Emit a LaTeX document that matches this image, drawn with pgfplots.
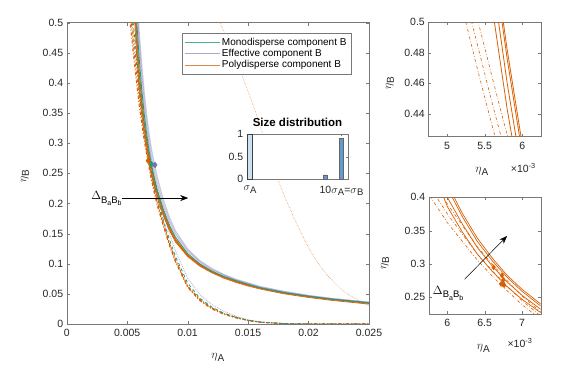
\documentclass[border=0pt]{standalone}
\usepackage{fontspec}
\setmainfont{Liberation Sans}
\usepackage{pgfplots}
\pgfplotsset{compat=1.18}
\usepackage{pgfplotstable}
\usetikzlibrary{arrows.meta}

\definecolor{mono}{RGB}{27,158,119}
\definecolor{poly}{RGB}{217,95,2}
\definecolor{eff}{RGB}{117,112,179}
\definecolor{axgray}{RGB}{120,120,120}
\definecolor{txtgray}{RGB}{38,38,38}
\definecolor{barlight}{RGB}{204,226,242}
\definecolor{barmid}{RGB}{100,155,205}

% label helpers: eta with a large upright subscript, as MATLAB sets it
\newcommand{\etaA}{$\eta$\raisebox{-0.45ex}{\fontsize{10}{11}\selectfont A}}
\newcommand{\etaB}{$\eta$\raisebox{-0.45ex}{\fontsize{10}{11}\selectfont B}}
\newcommand{\sub}[1]{\raisebox{-0.45ex}{\fontsize{9.5}{10}\selectfont #1}}
\newcommand{\dBB}{$\Delta$\raisebox{-0.5ex}{\fontsize{9.5}{10}\selectfont B\raisebox{-0.5ex}{\fontsize{7}{8}\selectfont a}B\raisebox{-0.5ex}{\fontsize{7}{8}\selectfont b}}}

% eta_A in units of 1e-3
\pgfplotstableread{
x    Oa    O     Ob    Oc    La     Lb     Lc     T     TL     P1    P2    PL
5.2  0.655 0.68  0.70  0.705 0.51   0.525  0.54   0.75  0.56   0.78  0.82  0.60
5.4  0.578 0.60  0.62  0.625 0.47   0.486  0.503  0.66  0.52   0.69  0.72  0.555
5.6  0.51  0.53  0.546 0.552 0.432  0.447  0.464  0.575 0.48   0.60  0.63  0.51
5.8  0.443 0.46  0.476 0.482 0.396  0.41   0.426  0.50  0.44   0.525 0.55  0.47
6.0  0.386 0.40  0.414 0.42  0.362  0.375  0.39   0.44  0.40   0.46  0.48  0.43
6.2  0.348 0.36  0.371 0.376 0.334  0.345  0.358  0.39  0.365  0.41  0.43  0.39
6.4  0.315 0.325 0.334 0.339 0.306  0.315  0.326  0.35  0.333  0.367 0.385 0.355
6.6  0.289 0.297 0.305 0.309 0.282  0.29   0.30   0.317 0.305  0.332 0.348 0.323
6.8  0.266 0.273 0.28  0.283 0.26   0.267  0.275  0.289 0.28   0.302 0.316 0.295
7.0  0.247 0.253 0.259 0.262 0.239  0.245  0.252  0.265 0.256  0.277 0.29  0.27
7.25 0.227 0.232 0.237 0.240 0.217  0.222  0.228  0.242 0.232  0.252 0.264 0.245
7.5  0.209 0.213 0.217 0.219 0.196  0.200  0.205  0.222 0.21   0.231 0.242 0.222
8    0.179 0.182 0.185 0.187 0.162  0.165  0.168  0.19  0.172  0.197 0.205 0.183
8.5  0.155 0.157 0.159 0.161 0.130  0.132  0.134  0.164 0.14   0.17  0.176 0.15
9    0.136 0.138 0.139 0.141 0.103  0.105  0.107  0.144 0.112  0.149 0.154 0.121
10   0.112 0.113 0.114 0.115 0.061  0.062  0.063  0.117 0.068  0.121 0.124 0.076
11   0.096 0.097 0.098 0.099 0.039  0.040  0.041  0.10  0.043  0.103 0.105 0.049
12   0.085 0.086 0.087 0.087 0.025  0.026  0.027  0.088 0.028  0.090 0.092 0.032
13   0.076 0.077 0.078 0.078 0.016  0.017  0.017  0.079 0.018  0.081 0.082 0.021
14   0.069 0.070 0.071 0.071 0.010  0.011  0.011  0.072 0.011  0.073 0.074 0.013
15   0.063 0.064 0.065 0.065 0.006  0.006  0.006  0.066 0.006  0.067 0.068 0.007
16   0.058 0.059 0.060 0.060 0.003  0.003  0.003  0.060 0.003  0.061 0.062 0.0035
18   0.050 0.051 0.052 0.052 0.0006 0.0006 0.0006 0.052 0.0007 0.053 0.054 0.0008
20   0.044 0.045 0.046 0.046 0.0001 0.0001 0.0001 0.046 0.0001 0.047 0.047 0.0001
22   0.039 0.040 0.041 0.041 0      0      0      0.041 0      0.042 0.042 0
25   0.033 0.034 0.035 0.035 0      0      0      0.035 0      0.036 0.036 0
}\curves

\pgfplotstableread{
x     y
12.67 0.501
14.32 0.4215
15.56 0.355
16.64 0.289
17.63 0.231
18.87 0.173
20.11 0.123
21.35 0.086
23.0  0.053
24.98 0.030
}\farcurve

\pgfplotsset{
  matstyle/.style={
    scale only axis, anchor=south west, clip mode=individual,
    axis line style={axgray}, tick style={axgray},
    major tick length=3pt, tick align=inside,
    ticklabel style={text=txtgray, font=\fontsize{10.5}{12}\selectfont},
    xticklabel style={yshift=-2pt},
    label style={text=txtgray, font=\fontsize{12}{13}\selectfont},
    /pgf/number format/assume math mode=true,
  },
}

\begin{document}
\begin{tikzpicture}
\path[use as bounding box] (0pt,0pt) rectangle (586pt,366pt);

% ---------------- main axis ----------------
\begin{axis}[matstyle,
  at={(66.7pt,42pt)}, width=302.3pt, height=301.3pt,
  xmin=0, xmax=25, ymin=0, ymax=0.5,
  xtick={0,5,10,15,20,25},
  xticklabels={0,0.005,0.01,0.015,0.02,0.025},
  ytick={0,0.05,0.1,0.15,0.2,0.25,0.3,0.35,0.4,0.45,0.5},
  yticklabels={0,0.05,0.1,0.15,0.2,0.25,0.3,0.35,0.4,0.45,0.5},
  xlabel={\etaA}, ylabel={\etaB},
  xlabel style={at={(axis description cs:0.5,-0.11)}, anchor=center},
  ylabel style={at={(axis description cs:-0.138,0.49)}, anchor=center},
  legend style={at={(axis description cs:0.3804,0.9648)}, anchor=north west,
    draw=axgray, fill=white, text=black, font=\fontsize{10}{11}\selectfont,
    row sep=-1.5pt, inner sep=2.5pt},
  legend cell align=left,
  legend image code/.code={\draw[#1] (0pt,0pt) -- (35pt,0pt);},
]
\addlegendimage{mono!80, line width=0.6pt}
\addlegendimage{eff!60, line width=0.6pt}
\addlegendimage{poly!75, line width=0.6pt}
\legend{Monodisperse component B, Effective component B, Polydisperse component B}

\addplot[poly, line width=0.7pt] table[x=x,y=Oa]{\curves};
\addplot[poly, line width=0.7pt] table[x=x,y=O]{\curves};
\addplot[poly, line width=0.7pt] table[x=x,y=Ob]{\curves};
\addplot[poly, line width=0.7pt] table[x=x,y=Oc]{\curves};
\addplot[poly, line width=1pt, dash dot] table[x=x,y=La]{\curves};
\addplot[poly, line width=1pt, dash dot] table[x=x,y=Lb]{\curves};
\addplot[poly, line width=1pt, dash dot] table[x=x,y=Lc]{\curves};
\addplot[poly!80, line width=0.5pt, densely dotted, smooth] table[x=x,y=y]{\farcurve};
\addplot[eff, opacity=0.4, line width=1.3pt] table[x=x,y=P1]{\curves};
\addplot[eff, opacity=0.4, line width=1.3pt] table[x=x,y=P2]{\curves};
\addplot[eff, opacity=0.5, line width=0.9pt, densely dotted] table[x=x,y=PL]{\curves};
\addplot[mono, line width=0.8pt] table[x=x,y=T]{\curves};
\addplot[mono, line width=0.8pt, dashed] table[x=x,y=TL]{\curves};
\addplot[only marks, mark=diamond*, mark size=3pt, poly] coordinates {(6.74,0.271)};
\addplot[only marks, mark=diamond*, mark size=3pt, mono] coordinates {(7.02,0.265)};
\addplot[only marks, mark=diamond*, mark size=3pt, eff] coordinates {(7.30,0.264)};

\draw[-{Stealth[length=8pt,width=6pt]}, line width=0.6pt] (axis cs:4.55,0.209) -- (axis cs:10.05,0.209);
\node[anchor=base east, inner sep=0pt, font=\fontsize{12}{13}\selectfont]
  at (axis cs:4.55,0.206) {\dBB};
\end{axis}

% ---------------- inset: size distribution ----------------
\begin{axis}[matstyle,
  at={(246.7pt,186.7pt)}, width=101.6pt, height=45.3pt,
  axis background/.style={fill=white},
  xmin=0.675, xmax=10.67, ymin=0, ymax=1,
  major tick length=2pt,
  ytick={0,0.5,1}, yticklabels={0,0.5,1},
  xtick={1,10},
  xticklabels={{$\sigma$\sub{A}}, {10$\sigma$\sub{A}=$\sigma$\sub{B}}},
  xticklabel style={yshift=-1pt},
  title={Size distribution},
  title style={font=\fontsize{11.5}{13}\bfseries\selectfont, text=black, yshift=-2pt},
]
\addplot[ybar, bar width=0.46, bar shift=0pt, fill=barlight, draw=black!75, line width=0.5pt]
  coordinates {(0.97,1)};
\addplot[ybar, bar width=0.4, bar shift=0pt, fill=barmid, draw=black!60, line width=0.5pt]
  coordinates {(8.4,0.1) (10.0,0.9)};
\end{axis}

% ---------------- top right zoom ----------------
\begin{axis}[matstyle,
  at={(428.3pt,229.3pt)}, width=112.7pt, height=114.4pt,
  xmin=4.75, xmax=6.25, ymin=0.425, ymax=0.5,
  xtick={5,5.5,6}, xticklabels={5,5.5,6},
  ytick={0.44,0.46,0.48,0.5}, yticklabels={0.44,0.46,0.48,0.5},
  xlabel={\etaA}, ylabel={\etaB},
  xlabel style={at={(axis description cs:0.474,-0.306)}, anchor=center},
  ylabel style={at={(axis description cs:-0.34,0.467)}, anchor=center},
]
\addplot[poly, line width=0.8pt] table[x=x,y=Oa]{\curves};
\addplot[poly, line width=0.8pt] table[x=x,y=O]{\curves};
\addplot[poly, line width=0.8pt] table[x=x,y=Ob]{\curves};
\addplot[poly, line width=0.8pt] table[x=x,y=Oc]{\curves};
\addplot[poly, line width=0.6pt, dash dot] table[x=x,y=La]{\curves};
\addplot[poly, line width=0.6pt, dash dot] table[x=x,y=Lb]{\curves};
\addplot[poly, line width=0.6pt, dash dot] table[x=x,y=Lc]{\curves};
\node[text=txtgray, font=\fontsize{10.5}{12}\selectfont] at (axis description cs:0.843,-0.274)
  {×10\textsuperscript{-3}};
\end{axis}

% ---------------- bottom right zoom ----------------
\begin{axis}[matstyle,
  at={(428.7pt,52pt)}, width=112pt, height=116.7pt,
  xmin=5.75, xmax=7.25, ymin=0.225, ymax=0.4,
  xtick={6,6.5,7}, xticklabels={6,6.5,7},
  ytick={0.25,0.3,0.35,0.4}, yticklabels={0.25,0.3,0.35,0.4},
  xlabel={\etaA}, ylabel={\etaB},
  xlabel style={at={(axis description cs:0.4875,-0.294)}, anchor=center},
  ylabel style={at={(axis description cs:-0.39,0.434)}, anchor=center},
]
\addplot[poly, line width=0.7pt] table[x=x,y=Oa]{\curves};
\addplot[poly, line width=0.7pt] table[x=x,y=O]{\curves};
\addplot[poly, line width=0.7pt] table[x=x,y=Ob]{\curves};
\addplot[poly, line width=0.7pt] table[x=x,y=Oc]{\curves};
\addplot[poly, line width=0.6pt, dash dot] table[x=x,y=La]{\curves};
\addplot[poly, line width=0.6pt, dash dot] table[x=x,y=Lb]{\curves};
\addplot[poly, line width=0.6pt, dash dot] table[x=x,y=Lc]{\curves};
\addplot[only marks, mark=diamond*, mark size=2.5pt, poly] coordinates {
  (6.62,0.295) (6.73,0.283) (6.75,0.276) (6.745,0.271) (6.76,0.268) (6.72,0.27)};
\draw[-{Stealth[length=8pt,width=6pt]}, line width=0.5pt] (axis cs:6.23,0.277) -- (axis cs:6.80,0.342);
\node[font=\fontsize{12}{13}\selectfont] at (axis cs:6.01,0.256) {\dBB};
\node[text=txtgray, font=\fontsize{10.5}{12}\selectfont] at (axis description cs:0.815,-0.251)
  {×10\textsuperscript{-3}};
\end{axis}
\end{tikzpicture}
\end{document}
